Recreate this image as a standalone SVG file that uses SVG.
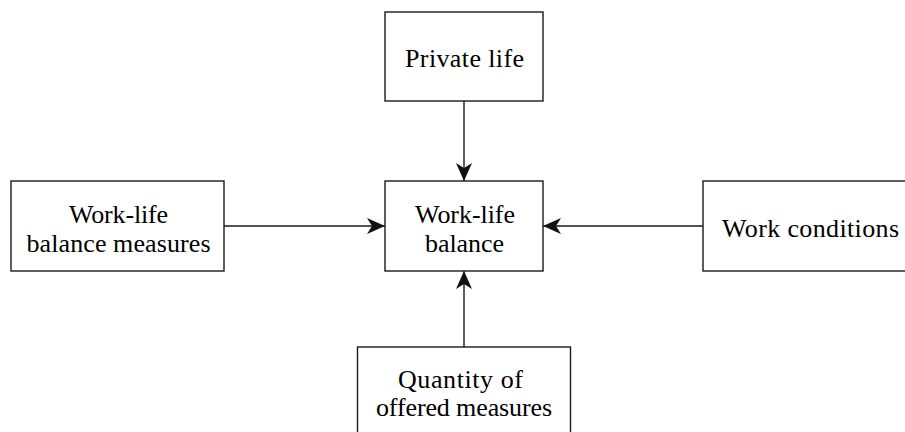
<svg xmlns="http://www.w3.org/2000/svg" width="905" height="432" viewBox="0 0 905 432">
<style>
.box{fill:#fff;stroke:#1a1a1a;stroke-width:1.4}
.edge{stroke:#1a1a1a;stroke-width:1.4;fill:none;marker-end:url(#stealth)}
</style>
<defs>
<marker id="stealth" viewBox="0 0 18 16" refX="18" refY="8" markerWidth="18" markerHeight="16" markerUnits="userSpaceOnUse" orient="auto">
<path d="M18,8 L0,0 L5,8 L0,16 Z" fill="#111"/>
</marker>
</defs>
<rect width="905" height="432" fill="#fff"/>
<g id="connectors">
<line class="edge" x1="464" y1="101" x2="464" y2="181"/>
<line class="edge" x1="224" y1="226" x2="385" y2="226"/>
<line class="edge" x1="703" y1="226" x2="543" y2="226"/>
<line class="edge" x1="464" y1="347" x2="464" y2="271"/>
</g>
<g id="private-life">
<rect class="box" x="385" y="12" width="158" height="89"/>
<text font-family="Liberation Serif" font-size="26" text-anchor="middle" x="464.5" y="67" textLength="119" lengthAdjust="spacing">Private life</text>
</g>
<g id="work-life-balance">
<rect class="box" x="385" y="181" width="158" height="90"/>
<text font-family="Liberation Serif" font-size="26" text-anchor="middle" x="465" y="223" textLength="100" lengthAdjust="spacing">Work-life</text>
<text font-family="Liberation Serif" font-size="26" text-anchor="middle" x="464.5" y="251.5" textLength="79" lengthAdjust="spacing">balance</text>
</g>
<g id="wlb-measures">
<rect class="box" x="11" y="181" width="213" height="90"/>
<text font-family="Liberation Serif" font-size="26" text-anchor="middle" x="118.5" y="223" textLength="99" lengthAdjust="spacing">Work-life</text>
<text font-family="Liberation Serif" font-size="26" text-anchor="middle" x="118.5" y="251.5" textLength="184" lengthAdjust="spacing">balance measures</text>
</g>
<g id="work-conditions">
<rect class="box" x="703" y="181" width="210" height="90"/>
<text font-family="Liberation Serif" font-size="26" text-anchor="middle" x="810.5" y="237" textLength="177" lengthAdjust="spacing">Work conditions</text>
</g>
<g id="quantity">
<rect class="box" x="357.5" y="347" width="213" height="100"/>
<text font-family="Liberation Serif" font-size="26" text-anchor="middle" x="460.5" y="388" textLength="125" lengthAdjust="spacing">Quantity of</text>
<text font-family="Liberation Serif" font-size="26" text-anchor="middle" x="464" y="415.5" textLength="176" lengthAdjust="spacing">offered measures</text>
</g>
</svg>
